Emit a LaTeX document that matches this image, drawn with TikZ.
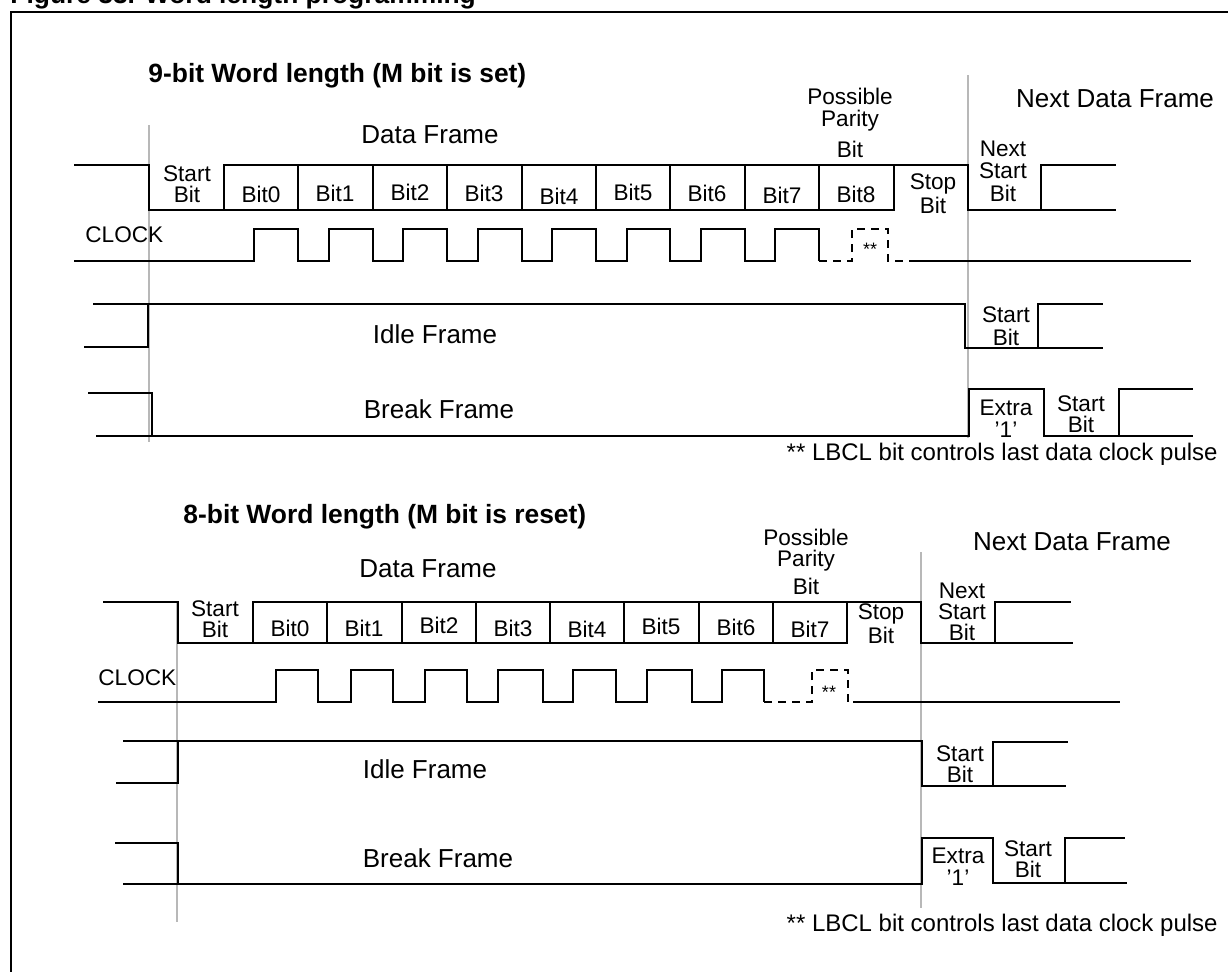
\documentclass[tikz,border=0pt]{standalone}
\usepackage{fontspec}
\setmainfont{Liberation Sans}
\usepackage{tikz}
\definecolor{guidegray}{HTML}{B8B8B8}
\tikzset{
  wave/.style={draw=black,line width=1pt,line join=miter},
  wavedash/.style={wave,dash pattern=on 4pt off 3pt},
  guide/.style={draw=guidegray,line width=1pt},
  lbl/.style={font=\fontsize{11.3}{10.5}\selectfont,inner sep=0pt,align=center,anchor=base},
  biglbl/.style={font=\fontsize{13}{15}\selectfont,inner sep=0pt,anchor=base},
  ttl/.style={font=\fontsize{13.2}{15}\selectfont\bfseries,inner sep=0pt,anchor=base west},
  note/.style={font=\fontsize{12}{14}\selectfont,inner sep=0pt,anchor=base east},
  stars/.style={font=\fontsize{9}{10}\selectfont,inner sep=0pt},
}

\begin{document}
\begin{tikzpicture}[x=0.5pt,y=-0.5pt]
  \useasboundingbox (0,0) rectangle (1228,971);
  \clip (0,0) rectangle (1228,971);
  \node[ttl] (fig) at (10,3) {Figure 33. Word length programming};
  \draw[line width=1pt] (11,990) -- (11,12) -- (1240,12);

  % 9-bit word
  \draw[guide] (149,125) -- (149,442);
  \draw[guide] (968,75) -- (968,438);
  \node[ttl] (t9) at (148,82) {9-bit Word length (M bit is set)};
  \node[biglbl] (df9) at (430,143) {Data Frame};
  \node[lbl] (pp9) at (850,157) {Possible\\[0.5pt]Parity\\[3.5pt]Bit};
  \node[biglbl] (nd9) at (1115,107) {Next Data Frame};

  \draw[wave] (74,165) -- (149,165) -- (149,210) -- (224,210) -- (224,165) -- (968,165)
    -- (968,210) -- (1041,210) -- (1041,165) -- (1116,165);
  \draw[wave] (224,210) -- (894,210) -- (894,165);
  \draw[wave] (1041,210) -- (1116,210);
  \draw[wave] (298,165) -- (298,210);
  \draw[wave] (373,165) -- (373,210);
  \draw[wave] (447,165) -- (447,210);
  \draw[wave] (522,165) -- (522,210);
  \draw[wave] (596,165) -- (596,210);
  \draw[wave] (670,165) -- (670,210);
  \draw[wave] (745,165) -- (745,210);
  \draw[wave] (819,165) -- (819,210);
  \node[lbl] (sb9) at (187,202) {Start\\Bit};
  \node[lbl] (b90) at (261,202) {Bit0};
  \node[lbl] (b91) at (335,201) {Bit1};
  \node[lbl] (b92) at (410,200) {Bit2};
  \node[lbl] (b93) at (484,201) {Bit3};
  \node[lbl] (b94) at (559,204) {Bit4};
  \node[lbl] (b95) at (633,200) {Bit5};
  \node[lbl] (b96) at (707,201) {Bit6};
  \node[lbl] (b97) at (782,203) {Bit7};
  \node[lbl] (b98) at (856,202) {Bit8};
  \node[lbl] (sp9) at (933,213) {Stop\\Bit};
  \node[lbl] (ns9) at (1003,201) {Next\\[0.5pt]Start\\[1pt]Bit};

  \node[lbl,anchor=base west] (ck9) at (85,242) {CLOCK};
  \draw[wave] (74,261) -- (254,261) -- (254,229) -- (298,229) -- (298,261) -- (329,261)
    -- (329,229) -- (373,229) -- (373,261) -- (403,261) -- (403,229) -- (447,229)
    -- (447,261) -- (478,261) -- (478,229) -- (522,229) -- (522,261) -- (552,261)
    -- (552,229) -- (596,229) -- (596,261) -- (627,261) -- (627,229) -- (670,229)
    -- (670,261) -- (701,261) -- (701,229) -- (745,229) -- (745,261) -- (775,261)
    -- (775,229) -- (819,229) -- (819,261);
  \draw[wavedash] (819,261) -- (852,261) -- (852,229) -- (888,229) -- (888,261) -- (915,261);
  \draw[wave] (915,261) -- (1191,261);
  \node[stars] (ls9) at (870,249) {**};

  \draw[wave] (93,304) -- (965,304) -- (965,348) -- (1038,348) -- (1038,304) -- (1103,304);
  \draw[wave] (84,347) -- (148,347) -- (148,304);
  \draw[wave] (1038,348) -- (1103,348);
  \node[biglbl] (if9) at (435,343) {Idle Frame};
  \node[lbl] (is9) at (1006,345) {Start\\[1pt]Bit};

  \draw[wave] (88,393) -- (152,393) -- (152,436);
  \draw[wave] (96,436) -- (969,436) -- (969,389) -- (1044,389) -- (1044,436) -- (1193,436);
  \draw[wave] (1119,436) -- (1119,389) -- (1193,389);
  \node[biglbl] (bf9) at (439,418) {Break Frame};
  \node[lbl] (ex9) at (1006,437) {Extra\\[0.5pt]'1'};
  \node[lbl] (bs9) at (1081,432) {Start\\Bit};
  \node[note] (nt9) at (1218,460) {** LBCL bit controls last data clock pulse};

  % 8-bit word
  \draw[guide] (177,602) -- (177,922);
  \draw[guide] (921,552) -- (921,908);
  \node[ttl] (t8) at (183,523) {8-bit Word length (M bit is reset)};
  \node[biglbl] (df8) at (428,577) {Data Frame};
  \node[lbl] (pp8) at (806,594) {Possible\\Parity\\[2pt]Bit};
  \node[biglbl] (nd8) at (1072,550) {Next Data Frame};

  \draw[wave] (103,602) -- (178,602) -- (178,643) -- (253,643) -- (253,602) -- (921,602)
    -- (921,643) -- (995,643) -- (995,602) -- (1071,602);
  \draw[wave] (253,643) -- (847,643) -- (847,602);
  \draw[wave] (995,643) -- (1073,643);
  \draw[wave] (327,602) -- (327,643);
  \draw[wave] (402,602) -- (402,643);
  \draw[wave] (476,602) -- (476,643);
  \draw[wave] (550,602) -- (550,643);
  \draw[wave] (624,602) -- (624,643);
  \draw[wave] (699,602) -- (699,643);
  \draw[wave] (773,602) -- (773,643);
  \node[lbl] (sb8) at (215,637) {Start\\Bit};
  \node[lbl] (b80) at (290,636) {Bit0};
  \node[lbl] (b81) at (364,636) {Bit1};
  \node[lbl] (b82) at (439,633) {Bit2};
  \node[lbl] (b83) at (513,636) {Bit3};
  \node[lbl] (b84) at (587,637) {Bit4};
  \node[lbl] (b85) at (661,634) {Bit5};
  \node[lbl] (b86) at (736,635) {Bit6};
  \node[lbl] (b87) at (810,637) {Bit7};
  \node[lbl] (sp8) at (881,643) {Stop\\Bit};
  \node[lbl] (ns8) at (962,640) {Next\\Start\\Bit};

  \node[lbl,anchor=base west] (ck8) at (98,685) {CLOCK};
  \draw[wave] (98,702) -- (276,702) -- (276,670) -- (318,670) -- (318,702) -- (351,702)
    -- (351,670) -- (393,670) -- (393,702) -- (425,702) -- (425,670) -- (467,670)
    -- (467,702) -- (498,702) -- (498,670) -- (543,670) -- (543,702) -- (573,702)
    -- (573,670) -- (616,670) -- (616,702) -- (647,702) -- (647,670) -- (692,670)
    -- (692,702) -- (722,702) -- (722,670) -- (764,670) -- (764,702);
  \draw[wavedash] (764,702) -- (812,702) -- (812,670) -- (848,670) -- (848,702) -- (853,702);
  \draw[wave] (853,702) -- (1120,702);
  \node[stars] (ls8) at (829,692) {**};

  \draw[wave] (123,741) -- (922,741) -- (922,786) -- (993,786) -- (993,742) -- (1068,742);
  \draw[wave] (116,783) -- (178,783) -- (178,741);
  \draw[wave] (993,786) -- (1066,786);
  \node[biglbl] (if8) at (425,778) {Idle Frame};
  \node[lbl] (is8) at (960,782) {Start\\Bit};

  \draw[wave] (115,843) -- (178,843) -- (178,884);
  \draw[wave] (123,884) -- (922,884) -- (922,838) -- (993,838) -- (993,883) -- (1127,883);
  \draw[wave] (1065,883) -- (1065,838) -- (1125,838);
  \node[biglbl] (bf8) at (438,867) {Break Frame};
  \node[lbl] (ex8) at (958,885) {Extra\\[0.5pt]'1'};
  \node[lbl] (bs8) at (1028,877) {Start\\Bit};
  \node[note] (nt8) at (1218,931) {** LBCL bit controls last data clock pulse};
\end{tikzpicture}
\end{document}
